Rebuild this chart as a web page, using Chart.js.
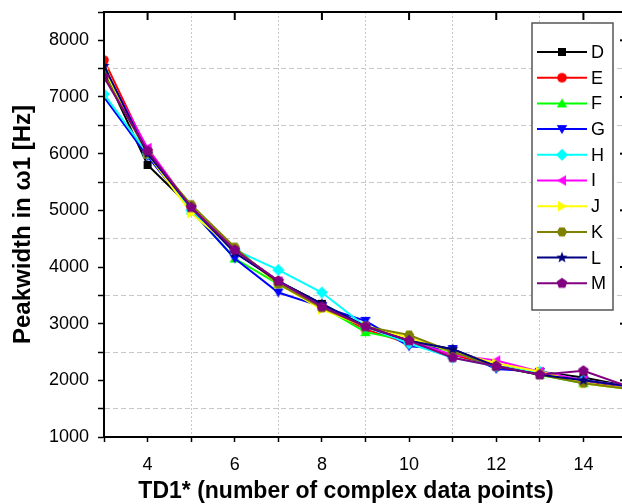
<!DOCTYPE html>
<html>
<head>
<meta charset="utf-8">
<script src="https://cdn.jsdelivr.net/npm/chart.js@4/dist/chart.umd.min.js"></script>
<style>
  html, body { margin: 0; padding: 0; background: #fff; overflow: hidden; width: 622px; height: 504px; }
</style>
</head>
<body>
<canvas id="graficoPeakwidth" width="640" height="504"></canvas>
<script>
// Pontos TD1* (eixo x)
const td1 = [3, 4, 5, 6, 7, 8, 9, 10, 11, 12, 13, 14, 15];

// Nomes das series
const nomes = ['D', 'E', 'F', 'G', 'H', 'I', 'J', 'K', 'L', 'M'];

// Valores (Hz)
const serieD = [7450, 5800, 5050, 4300, 3750, 3350, 2950, 2700, 2550, 2250, 2150, 2050, 1900];
const serieE = [7650, 6050, 5050, 4300, 3750, 3300, 2900, 2650, 2450, 2250, 2150, 2000, 1850];
const serieF = [7500, 6000, 5000, 4150, 3700, 3300, 2850, 2700, 2500, 2250, 2100, 1950, 1850];
const serieG = [7000, 5950, 5000, 4150, 3550, 3300, 3050, 2600, 2550, 2200, 2150, 2000, 1900];
const serieH = [7050, 6000, 5000, 4300, 3950, 3550, 2950, 2650, 2400, 2250, 2150, 2000, 1900];
const serieI = [7500, 6100, 5050, 4300, 3750, 3300, 2950, 2700, 2450, 2350, 2150, 2000, 1900];
const serieJ = [7500, 6000, 4950, 4300, 3700, 3250, 2950, 2750, 2500, 2300, 2150, 1950, 1850];
const serieK = [7400, 6000, 5100, 4350, 3700, 3280, 2950, 2800, 2500, 2250, 2100, 1950, 1850];
const serieL = [7550, 6000, 5050, 4250, 3750, 3350, 2950, 2700, 2550, 2250, 2100, 2000, 1900];
const serieM = [7350, 6050, 5050, 4300, 3750, 3300, 2950, 2700, 2400, 2250, 2100, 2170, 1900];

const series = [serieD, serieE, serieF, serieG, serieH, serieI, serieJ, serieK, serieL, serieM];

// Estilos
const cores = ['#000000', '#ff0000', '#00ff00', '#0000ff', '#00ffff', '#ff00ff', '#ffff00', '#808000', '#000080', '#800080'];
const formas = ['quadrado', 'circulo', 'cima', 'baixo', 'losango', 'esquerda', 'direita', 'hexagono', 'estrela', 'pentagono'];

const fonte = "'Liberation Sans', Arial, sans-serif";
const tituloX = 'TD1* (number of complex data points)';

function poligono(g, n, r, a0) {
  for (let i = 0; i < n; i++) {
    const a = (a0 + i * 360 / n) * Math.PI / 180;
    if (i === 0) g.moveTo(r * Math.cos(a), r * Math.sin(a));
    else g.lineTo(r * Math.cos(a), r * Math.sin(a));
  }
  g.closePath();
}

// Cria o marcador como canvas (usado no grafico e na legenda)
function marcador(forma, cor) {
  const s = 14;
  const c = document.createElement('canvas');
  c.width = s; c.height = s;
  const g = c.getContext('2d');
  g.translate(s / 2, s / 2);
  g.fillStyle = cor;
  g.beginPath();
  switch (forma) {
    case 'quadrado': g.rect(-4, -4, 8, 8); break;
    case 'circulo': g.arc(0, 0, 4.8, 0, Math.PI * 2); break;
    case 'cima': g.translate(0, 1); poligono(g, 3, 6, -90); break;
    case 'baixo': g.translate(0, -1); poligono(g, 3, 6, 90); break;
    case 'esquerda': g.translate(1, 0); poligono(g, 3, 6, 180); break;
    case 'direita': g.translate(-1, 0); poligono(g, 3, 6, 0); break;
    case 'losango': poligono(g, 4, 6, -90); break;
    case 'hexagono': poligono(g, 6, 5.2, 0); break;
    case 'pentagono': poligono(g, 5, 5.6, -90); break;
    case 'estrela':
      for (let i = 0; i < 10; i++) {
        const r = i % 2 === 0 ? 6 : 2.5;
        const a = (-90 + i * 36) * Math.PI / 180;
        if (i === 0) g.moveTo(r * Math.cos(a), r * Math.sin(a));
        else g.lineTo(r * Math.cos(a), r * Math.sin(a));
      }
      g.closePath();
      break;
  }
  g.fill();
  return c;
}

const marcadores = formas.map((f, i) => marcador(f, cores[i]));

const datasets = series.map((valores, i) => ({
  label: nomes[i],
  data: td1.map((x, j) => ({ x: x, y: valores[j] })),
  borderColor: cores[i],
  backgroundColor: cores[i],
  borderWidth: 2,
  pointStyle: marcadores[i],
  pointRadius: 5,
  tension: 0,
  order: series.length - i
}));

// Moldura, ticks internos, titulo x e legenda dentro do grafico
const moldura = {
  id: 'moldura',
  afterDatasetsDraw(chart) {
    const ctx = chart.ctx;
    const a = chart.chartArea;
    const sx = chart.scales.x;
    const sy = chart.scales.y;
    ctx.save();
    ctx.strokeStyle = '#000';
    ctx.lineWidth = 2;
    // ticks no topo (para dentro)
    for (let v = 4; v <= 14; v += 2) {
      const px = sx.getPixelForValue(v);
      ctx.beginPath(); ctx.moveTo(px, a.top); ctx.lineTo(px, a.top + 8); ctx.stroke();
    }
    // ticks na direita (para dentro)
    for (let v = 1000; v <= 8000; v += 1000) {
      const py = sy.getPixelForValue(v);
      ctx.beginPath(); ctx.moveTo(a.right, py); ctx.lineTo(a.right - 7, py); ctx.stroke();
    }
    ctx.strokeRect(a.left, a.top, a.right - a.left, a.bottom - a.top);
    ctx.restore();
  },
  afterDraw(chart) {
    const ctx = chart.ctx;
    ctx.save();
    // titulo do eixo x
    ctx.fillStyle = '#000';
    ctx.font = 'bold 23px ' + fonte;
    ctx.textAlign = 'center';
    ctx.textBaseline = 'middle';
    ctx.fillText(tituloX, 346, 492);

    // caixa da legenda
    ctx.fillStyle = '#fff';
    ctx.fillRect(532, 23, 81, 287);
    ctx.strokeStyle = '#555';
    ctx.lineWidth = 1.5;
    ctx.strokeRect(532, 23, 81, 287);
    ctx.font = '18px ' + fonte;
    ctx.textBaseline = 'middle';
    ctx.textAlign = 'left';
    nomes.forEach((nome, i) => {
      const y = 52 + i * 25.7;
      ctx.strokeStyle = cores[i];
      ctx.lineWidth = 2;
      ctx.beginPath(); ctx.moveTo(537, y); ctx.lineTo(587, y); ctx.stroke();
      ctx.drawImage(marcadores[i], 562 - 7, y - 7);
      ctx.fillStyle = '#000';
      ctx.fillText(nome, 591, y + 1);
    });
    ctx.restore();
  }
};

const ctx = document.getElementById('graficoPeakwidth').getContext('2d');
new Chart(ctx, {
  type: 'line',
  data: { datasets: datasets },
  plugins: [moldura],
  options: {
    responsive: false,
    animation: false,
    layout: { padding: { top: 12, right: 13, left: 0, bottom: 0 } },
    plugins: {
      legend: { display: false },
      tooltip: { enabled: false }
    },
    scales: {
      x: {
        type: 'linear',
        min: 3,
        max: 15,
        afterFit: s => { s.height = 67; s.paddingLeft = 0; s.paddingRight = 0; },
        ticks: {
          stepSize: 1,
          autoSkip: false,
          maxRotation: 0,
          padding: 12,
          color: '#000',
          font: { family: fonte, size: 18 },
          callback: v => (v % 2 === 0 ? String(v) : '')
        },
        grid: {
          color: c => (c.tick && c.tick.value % 2 === 1 ? '#c8c8c8' : 'rgba(0,0,0,0)'),
          tickColor: '#000',
          tickLength: 5,
          tickWidth: 1.5,
          lineWidth: 1
        },
        border: { display: true, color: '#000', width: 2, dash: [2, 2] },
        title: { display: false }
      },
      y: {
        min: 1000,
        max: 8500,
        afterFit: s => { s.width = 104; s.paddingTop = 0; s.paddingBottom = 0; },
        ticks: {
          stepSize: 500,
          autoSkip: false,
          padding: 9,
          color: '#000',
          font: { family: fonte, size: 18 },
          callback: v => (v % 1000 === 0 && v <= 8000 ? String(v) : '')
        },
        grid: {
          color: c => (c.tick && c.tick.value % 1000 === 500 ? '#c8c8c8' : 'rgba(0,0,0,0)'),
          tickColor: '#000',
          tickLength: 6,
          tickWidth: 1.5,
          lineWidth: 1
        },
        border: { display: true, color: '#000', width: 2, dash: [5, 3] },
        title: {
          display: true,
          text: 'Peakwidth in ω1 [Hz]',
          color: '#000',
          font: { family: fonte, size: 24, weight: 'bold' },
          padding: { top: 9, bottom: 0 }
        }
      }
    }
  }
});
</script>
</body>
</html>
